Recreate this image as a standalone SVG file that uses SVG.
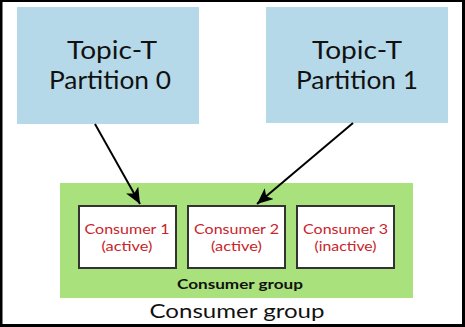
<svg xmlns="http://www.w3.org/2000/svg" width="465" height="327" viewBox="0 0 465 327">
<style>
.topic{fill:#b5d9e8}
.tt{font-family:Lato,"Liberation Sans",sans-serif;font-size:24.8px;fill:#111;text-anchor:middle}
.cons{fill:#fff;stroke:#333;stroke-width:2}
.ct{font-family:Lato,"Liberation Sans",sans-serif;font-size:14px;fill:#c8242b;text-anchor:middle}
.edge{stroke:#000;stroke-width:2;fill:none}
</style>
<defs>
<marker id="arr" viewBox="0 0 16 14" refX="16" refY="7" markerWidth="16" markerHeight="14" markerUnits="userSpaceOnUse" orient="auto">
<path d="M0,0 L16,7 L0,14 L4,7 z" fill="#000"/>
</marker>
</defs>
<rect x="0" y="0" width="465" height="327" fill="#fff"/>
<rect x="1" y="0.5" width="462.5" height="325" fill="none" stroke="#000" stroke-width="3"/>
<g id="topic0">
<rect class="topic" x="17" y="7" width="182" height="117"/>
<text class="tt" x="112" y="59" textLength="90" lengthAdjust="spacingAndGlyphs">Topic-T</text>
<text class="tt" x="110" y="89" textLength="122" lengthAdjust="spacingAndGlyphs">Partition 0</text>
</g>
<g id="topic1">
<rect class="topic" x="266" y="7" width="182" height="116"/>
<text class="tt" x="357" y="59" textLength="90" lengthAdjust="spacingAndGlyphs">Topic-T</text>
<text class="tt" x="357" y="89" textLength="122" lengthAdjust="spacingAndGlyphs">Partition 1</text>
</g>
<g id="group">
<rect x="60" y="183" width="353" height="115" fill="#a9e27c"/>
<text x="240" y="289" font-family="Lato,'Liberation Sans',sans-serif" font-size="12.5px" font-weight="bold" fill="#111" text-anchor="middle" textLength="126" lengthAdjust="spacingAndGlyphs">Consumer group</text>
</g>
<g id="consumer1">
<rect class="cons" x="79" y="206" width="97" height="62"/>
<text class="ct" x="127" y="234" textLength="85" lengthAdjust="spacingAndGlyphs">Consumer 1</text>
<text class="ct" x="127" y="251" textLength="51" lengthAdjust="spacingAndGlyphs">(active)</text>
</g>
<g id="consumer2">
<rect class="cons" x="188" y="206" width="97" height="62"/>
<text class="ct" x="236.5" y="234" textLength="85" lengthAdjust="spacingAndGlyphs">Consumer 2</text>
<text class="ct" x="236.5" y="251" textLength="51" lengthAdjust="spacingAndGlyphs">(active)</text>
</g>
<g id="consumer3">
<rect class="cons" x="297" y="206" width="97" height="62"/>
<text class="ct" x="345.5" y="234" textLength="85" lengthAdjust="spacingAndGlyphs">Consumer 3</text>
<text class="ct" x="345.5" y="251" textLength="62" lengthAdjust="spacingAndGlyphs">(inactive)</text>
</g>
<g id="label">
<text x="237" y="318" font-family="Lato,'Liberation Sans',sans-serif" font-size="19px" fill="#111" text-anchor="middle" textLength="175" lengthAdjust="spacingAndGlyphs">Consumer group</text>
</g>
<g id="connectors">
<line class="edge" x1="95" y1="124" x2="140" y2="204" marker-end="url(#arr)"/>
<line class="edge" x1="353" y1="123" x2="257" y2="204" marker-end="url(#arr)"/>
</g>
</svg>
